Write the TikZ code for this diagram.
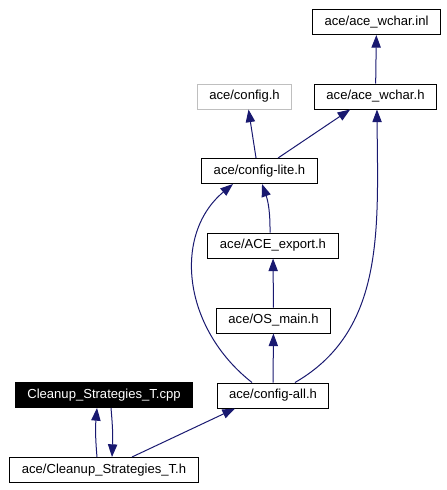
\documentclass[tikz,border=0pt]{standalone}
\usepackage{fontspec}
\setmainfont{Liberation Sans}
\usetikzlibrary{arrows.meta,positioning}
\definecolor{edgeblue}{HTML}{191970}
\definecolor{lightframe}{HTML}{BFBFBF}

\begin{document}
\begin{tikzpicture}[
    x=0.75pt, y=-0.75pt,
    font=\fontsize{9.8pt}{11pt}\selectfont,
    file/.style={draw, fill=white, line width=0.75pt, inner xsep=9pt, minimum height=18.75pt, align=center},
    mainfile/.style={file, fill=black, text=white},
    missing/.style={file, draw=lightframe},
    dep/.style={-{Triangle[length=9.5pt, width=7pt]}, draw=edgeblue, line width=0.75pt}
]
    \useasboundingbox (0,0) rectangle (447,490);

    % Included headers
    \node[file] (inl) at (376.5,22) {ace/ace\_wchar.inl};
    \node[file] (wchar) at (375.5,96.5) {ace/ace\_wchar.h};
    \node[missing] (config) at (244.5,96.5) {ace/config.h};
    \node[file] (lite) at (259.5,171) {ace/config-lite.h};
    \node[file] (export) at (273,245.5) {ace/ACE\_export.h};
    \node[file] (osmain) at (273.5,320.5) {ace/OS\_main.h};
    \node[file] (all) at (273,395.5) {ace/config-all.h};

    % Source and its header
    \node[mainfile] (cpp) at (104,395) {Cleanup\_Strategies\_T.cpp};
    \node[file] (cleanh) at (104,470) {ace/Cleanup\_Strategies\_T.h};

    % Include edges
    \draw[dep] (wchar) -- (inl);
    \draw[dep] ([xshift=-2.6pt]lite.north) -- ([xshift=3pt]config.south);
    \draw[dep] ([xshift=13.9pt]lite.north) -- ([xshift=-19pt]wchar.south);
    \draw[dep] ([xshift=-2.25pt]export.north) to[bend right=10] ([xshift=1.9pt]lite.south);
    \draw[dep] (osmain) -- (export);
    \draw[dep] (all) -- (osmain);

    % Long edges around the chain
    \draw[dep] ([xshift=-15.75pt]all.north) .. controls +(-70,-55) and +(-60,50) .. ([xshift=-19.9pt]lite.south);
    \draw[dep] ([xshift=16.5pt]all.north) .. controls +(90,-52) and +(1,120) .. ([xshift=1.1pt]wchar.south);

    % Cleanup edges
    \draw[dep] ([xshift=-5.25pt]cleanh.north) to[bend left=5] ([xshift=-5.25pt]cpp.south);
    \draw[dep] ([xshift=5.25pt]cpp.south) to[bend left=4] ([xshift=6pt]cleanh.north);
    \draw[dep] ([xshift=21pt]cleanh.north) -- ([xshift=-28.5pt]all.south);
\end{tikzpicture}
\end{document}
